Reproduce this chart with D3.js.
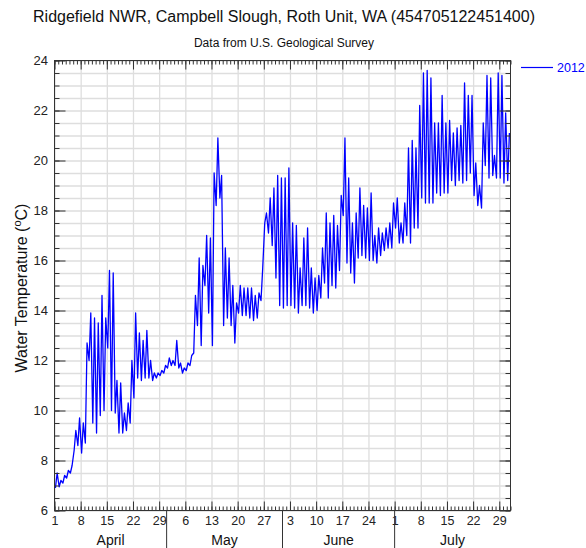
<!DOCTYPE html>
<html>
<head>
<meta charset="utf-8">
<script src="https://cdn.jsdelivr.net/npm/d3@7"></script>
<style>
  html, body { margin: 0; padding: 0; background: #fff; }
  svg { display: block; font-family: "Liberation Sans", Arial, sans-serif; }
</style>
</head>
<body>
<svg id="chart" width="586" height="548"></svg>
<script>
// ---------------- data ----------------
const title = "Ridgefield NWR, Campbell Slough, Roth Unit, WA (454705122451400)";
const subtitle = "Data from U.S. Geological Survey";
const yTitle = "Water Temperature (";
const seriesName = "2012";
const startDate = [2012, 3, 1];   // April 1, 2012
const endDate = [2012, 7, 1];     // August 1, 2012

// daily minimum (morning) water temperature, Apr 1 .. Jul 31
const dailyMin = [
  // April
  6.9, 6.95, 7.1, 7.3, 7.5, 8.4, 8.6, 8.3, 8.7, 12.0,
  9.5, 9.1, 9.8, 10.0, 12.5, 10.0, 9.9, 9.1, 9.1, 9.2,
  9.5, 10.5, 11.3, 11.2, 11.3, 11.3, 11.2, 11.3, 11.4, 11.5,
  // May
  11.7, 11.8, 11.8, 11.7, 11.5, 11.6, 11.8, 12.3, 13.4, 12.6,
  15.0, 13.9, 12.6, 18.2, 18.5, 13.4, 13.7, 13.4, 12.7, 13.9,
  13.8, 13.8, 13.7, 13.6, 13.7, 14.4, 17.5, 17.1, 16.6, 15.3, 14.2,
  // June
  14.1, 14.2, 14.2, 14.1, 13.9, 14.2, 14.2, 14.1, 13.9, 14.0,
  14.5, 15.1, 14.5, 15.0, 14.9, 15.6, 17.8, 15.9, 15.5, 15.1,
  16.1, 16.2, 16.1, 16.0, 16.0, 15.9, 16.2, 16.4, 16.5, 16.5,
  // July
  17.3, 16.7, 16.7, 17.0, 16.7, 17.3, 17.3, 18.5, 18.3, 18.3,
  18.3, 18.7, 18.6, 18.7, 18.7, 19.2, 19.0, 19.2, 19.1, 19.2,
  19.5, 18.6, 18.2, 18.1, 19.8, 19.3, 19.4, 19.3, 19.3, 19.1, 19.2
];
// daily maximum (afternoon) water temperature, Apr 1 .. Jul 31
const dailyMax = [
  // April
  7.5, 7.2, 7.4, 7.6, 7.8, 9.2, 9.7, 9.5, 12.7, 13.9,
  13.7, 13.5, 14.6, 13.7, 15.6, 15.5, 11.2, 11.1, 9.9, 10.3,
  12.0, 13.9, 13.1, 12.8, 13.2, 12.0, 11.5, 11.5, 11.6, 11.8,
  // May
  12.1, 12.0, 12.8, 11.9, 11.7, 11.9, 12.2, 14.6, 16.1, 15.8,
  17.0, 16.9, 19.5, 20.9, 19.4, 16.5, 16.1, 15.0, 14.3, 15.0,
  14.9, 14.9, 14.9, 14.6, 14.7, 15.7, 17.9, 18.5, 18.9, 19.4, 19.3,
  // June
  19.3, 19.7, 17.5, 17.4, 15.7, 16.9, 17.3, 15.7, 15.3, 15.4,
  16.5, 17.9, 17.5, 17.8, 17.4, 18.6, 20.9, 19.3, 17.5, 17.9,
  18.9, 18.2, 18.1, 18.7, 17.0, 17.3, 17.1, 17.3, 17.5, 18.3,
  // July
  18.5, 17.5, 18.3, 20.5, 20.8, 20.5, 22.2, 23.5, 23.6, 23.3,
  21.5, 21.5, 22.6, 21.5, 21.6, 21.1, 21.3, 21.4, 23.1, 22.6,
  22.6, 19.9, 19.0, 21.5, 23.4, 23.3, 20.2, 23.5, 23.4, 21.9, 21.1
];
const monthNames = ["April", "May", "June", "July"];
const monthStarts = [[2012, 3, 1], [2012, 4, 1], [2012, 5, 1], [2012, 6, 1], [2012, 7, 1]];
const dayTickLabels = [
  [2012, 3, 1], [2012, 3, 8], [2012, 3, 15], [2012, 3, 22], [2012, 3, 29],
  [2012, 4, 6], [2012, 4, 13], [2012, 4, 20], [2012, 4, 27],
  [2012, 5, 3], [2012, 5, 10], [2012, 5, 17], [2012, 5, 24],
  [2012, 6, 1], [2012, 6, 8], [2012, 6, 15], [2012, 6, 22], [2012, 6, 29]
];
const yMin = 6, yMax = 24;
const yLabelTicks = [6, 8, 10, 12, 14, 16, 18, 20, 22, 24];

// ---------------- layout ----------------
const svg = d3.select("#chart");
const L = 54.5, R = 510.5, T = 60.5, B = 510.5;
const toDate = a => new Date(a[0], a[1], a[2]);
const x = d3.scaleTime().domain([toDate(startDate), toDate(endDate)]).range([L, R]);
const y = d3.scaleLinear().domain([yMin, yMax]).range([B, T]);

const halfTicks = d3.range(yMin, yMax + 0.001, 0.5);
const weekDates = dayTickLabels.map(toDate);
const allDays = d3.timeDay.range(toDate(startDate), d3.timeDay.offset(toDate(endDate), 1));

// points: min in the morning, max in the afternoon
const points = [];
const t0 = toDate(startDate);
dailyMin.forEach((v, i) => {
  const day = d3.timeDay.offset(t0, i);
  points.push({ t: d3.timeHour.offset(day, 6), v: v });
  points.push({ t: d3.timeHour.offset(day, 17), v: dailyMax[i] });
});

// grid
const grid = svg.append("g");
grid.append("g").attr("transform", `translate(0,${B})`)
  .call(d3.axisBottom(x).tickValues(weekDates).tickSize(-(B - T)).tickFormat(""))
  .call(g => { g.select(".domain").remove(); g.selectAll("line").attr("stroke", "#dedede").attr("stroke-width", 1.3); });
grid.append("g").attr("transform", `translate(${L},0)`)
  .call(d3.axisLeft(y).tickValues(halfTicks).tickSize(-(R - L)).tickFormat(""))
  .call(g => { g.select(".domain").remove(); g.selectAll("line").attr("stroke", "#dedede").attr("stroke-width", 1.3); });

// data line
const clipId = "plotclip";
svg.append("clipPath").attr("id", clipId).append("rect")
  .attr("x", L).attr("y", T).attr("width", R - L).attr("height", B - T);
svg.append("path")
  .datum(points)
  .attr("clip-path", `url(#${clipId})`)
  .attr("fill", "none")
  .attr("stroke", "#0000ff")
  .attr("stroke-width", 1.3)
  .attr("stroke-linejoin", "round")
  .attr("d", d3.line().x(d => x(d.t)).y(d => y(d.v)));

// axes
const axisColor = "#333";
function styleAxis(g) {
  g.select(".domain").remove();
  g.selectAll("line").attr("stroke", axisColor);
  g.selectAll("text").attr("fill", "#222").attr("font-family", "Liberation Sans, Arial, sans-serif");
}
// bottom
svg.append("g").attr("transform", `translate(0,${B})`)
  .call(d3.axisBottom(x).tickValues(allDays).tickSize(-4).tickFormat("")).call(styleAxis);
svg.append("g").attr("transform", `translate(0,${B})`)
  .call(d3.axisBottom(x).tickValues(weekDates).tickSize(-9).tickPadding(5).tickFormat(d => d.getDate()))
  .call(styleAxis)
  .call(g => g.selectAll("text").attr("font-size", 12.5).attr("y", 6));
// top
svg.append("g").attr("transform", `translate(0,${T})`)
  .call(d3.axisTop(x).tickValues(allDays).tickSize(-4).tickFormat("")).call(styleAxis);
svg.append("g").attr("transform", `translate(0,${T})`)
  .call(d3.axisTop(x).tickValues(weekDates).tickSize(-9).tickFormat("")).call(styleAxis);
// left
svg.append("g").attr("transform", `translate(${L},0)`)
  .call(d3.axisLeft(y).tickValues(halfTicks).tickSize(-5).tickFormat("")).call(styleAxis);
svg.append("g").attr("transform", `translate(${L},0)`)
  .call(d3.axisLeft(y).tickValues(yLabelTicks).tickSize(-11).tickPadding(5).tickFormat(d3.format("d")))
  .call(styleAxis)
  .call(g => g.selectAll("text").attr("font-size", 13).attr("x", -6.5));
// right
svg.append("g").attr("transform", `translate(${R},0)`)
  .call(d3.axisRight(y).tickValues(halfTicks).tickSize(-5).tickFormat("")).call(styleAxis);
svg.append("g").attr("transform", `translate(${R},0)`)
  .call(d3.axisRight(y).tickValues(yLabelTicks).tickSize(-11).tickFormat("")).call(styleAxis);

// frame
svg.append("rect").attr("x", L).attr("y", T).attr("width", R - L).attr("height", B - T)
  .attr("fill", "none").attr("stroke", axisColor).attr("stroke-width", 1);

// month separators and labels
const months = monthStarts.map(toDate);
svg.append("g").selectAll("line")
  .data(months.slice(1, -1))
  .join("line")
  .attr("x1", d => x(d)).attr("x2", d => x(d))
  .attr("y1", B).attr("y2", 548)
  .attr("stroke", axisColor).attr("stroke-width", 1);
svg.append("g").selectAll("text")
  .data(monthNames)
  .join("text")
  .attr("x", (d, i) => (x(months[i]) + x(months[i + 1])) / 2)
  .attr("y", 545)
  .attr("text-anchor", "middle")
  .attr("font-size", 14)
  .attr("fill", "#111")
  .text(d => d);

// titles
svg.append("text").attr("x", 284).attr("y", 22).attr("text-anchor", "middle")
  .attr("font-size", 16).attr("fill", "#111").text(title);
svg.append("text").attr("x", 284).attr("y", 47).attr("text-anchor", "middle")
  .attr("font-size", 12).attr("fill", "#111").text(subtitle);

// y-axis title
const yt = svg.append("text")
  .attr("transform", `translate(27,288) rotate(-90)`)
  .attr("text-anchor", "middle")
  .attr("font-size", 16)
  .attr("fill", "#111");
yt.append("tspan").text(yTitle);
yt.append("tspan").attr("font-size", 11).attr("dy", -6).text("o");
yt.append("tspan").attr("dy", 6).text("C)");

// legend
svg.append("line").attr("x1", 521).attr("x2", 553).attr("y1", 67.5).attr("y2", 67.5)
  .attr("stroke", "#0000ff").attr("stroke-width", 1.2);
svg.append("text").attr("x", 557).attr("y", 72).attr("font-size", 12.5)
  .attr("fill", "#0000ff").text(seriesName);
</script>
</body>
</html>
